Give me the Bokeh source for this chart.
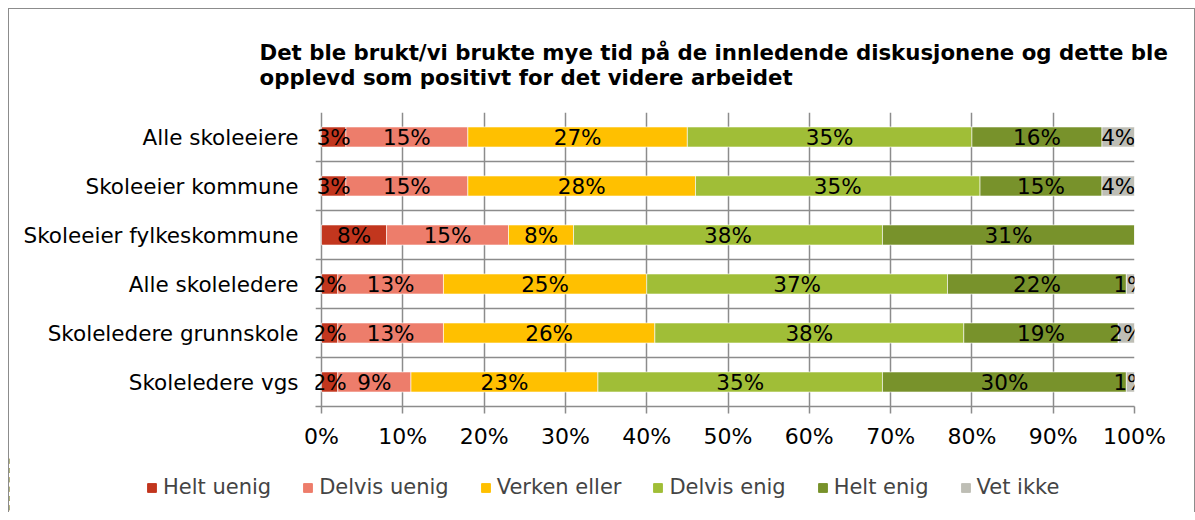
from bokeh.plotting import figure
from bokeh.layouts import column
from bokeh.models import ColumnDataSource, FixedTicker, Range1d, Legend, LegendItem
from bokeh.core.properties import value
from bokeh.embed import file_html
from bokeh.resources import INLINE

categories = ["Alle skoleeiere", "Skoleeier kommune", "Skoleeier fylkeskommune",
              "Alle skoleledere", "Skoleledere grunnskole", "Skoleledere vgs"]
series = ["Helt uenig", "Delvis uenig", "Verken eller", "Delvis enig", "Helt enig", "Vet ikke"]
helt_uenig = [3, 3, 8, 2, 2, 2]
delvis_uenig = [15, 15, 15, 13, 13, 9]
verken_eller = [27, 28, 8, 25, 26, 23]
delvis_enig = [35, 35, 38, 37, 38, 35]
helt_enig = [16, 15, 31, 22, 19, 30]
vet_ikke = [4, 4, 0, 1, 2, 1]
x_ticks = [0, 10, 20, 30, 40, 50, 60, 70, 80, 90, 100]
x_tick_labels = ["0%", "10%", "20%", "30%", "40%", "50%", "60%", "70%", "80%", "90%", "100%"]
title_text = ("Det ble brukt/vi brukte mye tid på de innledende diskusjonene og dette ble\n"
              "opplevd som positivt for det videre arbeidet")

colors = ["#C2361E", "#ED7D6B", "#FFC000", "#A0BE37", "#78922B", "#BEBEB5"]
FONT = "DejaVu Sans"
GRID = "#8c8c8c"

n = len(categories)
ypos = [n - 1 - i + 0.5 for i in range(n)]
values = [helt_uenig, delvis_uenig, verken_eller, delvis_enig, helt_enig, vet_ikke]
data = {"y": ypos}
for s, v in zip(series, values):
    data[s] = v
source = ColumnDataSource(data)

# label positions
lx, ly, lt = [], [], []
for i in range(n):
    cum = 0
    for v in values:
        val = v[i]
        if val > 0:
            lx.append(cum + val / 2)
            ly.append(ypos[i])
            lt.append(f"{val}%")
        cum += val
lab_src = ColumnDataSource(dict(x=lx, y=ly, t=lt))

p = figure(frame_width=819, frame_height=294, x_range=Range1d(-0.74, 100), y_range=Range1d(0, 6),
           output_backend="svg", toolbar_location=None,
           min_border_left=306, min_border_right=60, min_border_top=103, min_border_bottom=50)
p.outline_line_color = None
p.frame_align = False

renderers = p.hbar_stack(series, y="y", height=0.41, color=colors, source=source,
                         line_color="white", line_width=0.6)

p.text(x="x", y="y", text="t", source=lab_src, text_align="center", text_baseline="middle",
       text_font=value(FONT), text_font_size="21.5px", text_color="black")

# x axis
p.xaxis.ticker = FixedTicker(ticks=x_ticks)
p.xaxis.major_label_overrides = {t: l for t, l in zip(x_ticks, x_tick_labels)}
p.xaxis.major_label_text_font = FONT
p.xaxis.major_label_text_font_size = "22px"
p.xaxis.major_label_text_color = "black"
p.xaxis.major_tick_out = 7
p.xaxis.major_tick_in = 0
p.xaxis.major_tick_line_color = GRID
p.xaxis.major_tick_line_width = 1.5
p.xaxis.minor_tick_line_color = None
p.xaxis.axis_line_color = GRID
p.xaxis.axis_line_width = 1.5
p.xaxis.major_label_standoff = 10

# y axis
p.yaxis.ticker = FixedTicker(ticks=ypos)
p.yaxis.major_label_overrides = {y: c for y, c in zip(ypos, categories)}
p.yaxis.major_label_text_font = FONT
p.yaxis.major_label_text_font_size = "21.5px"
p.yaxis.major_label_text_color = "black"
p.yaxis.major_tick_line_color = None
p.yaxis.minor_tick_line_color = None
p.yaxis.axis_line_color = None
p.yaxis.major_label_standoff = 11

# grids
p.xgrid.ticker = FixedTicker(ticks=x_ticks)
p.xgrid.grid_line_color = GRID
p.xgrid.grid_line_width = 1.5
p.ygrid.ticker = FixedTicker(ticks=list(range(n + 1)))
p.ygrid.grid_line_color = GRID
p.ygrid.grid_line_width = 1.5

# title
p.title.text = title_text
p.title.text_font = FONT
p.title.text_font_size = "21.3px"
p.title.text_font_style = "bold"
p.title.text_color = "black"
p.title.align = "left"
p.title.offset = -56
p.title.standoff = 45

# legend strip: a second figure whose frame covers its whole canvas
p2 = figure(width=1185, height=56, x_range=Range1d(1000, 1100), y_range=Range1d(0, 6),
            output_backend="svg", toolbar_location=None,
            x_axis_location=None, y_axis_location=None,
            min_border_left=0, min_border_right=0, min_border_top=0, min_border_bottom=0)
p2.outline_line_color = None
p2.frame_align = False
p2.xgrid.visible = False
p2.ygrid.visible = False
leg_renderers = p2.hbar_stack(series, y="y", height=0.41, color=colors, source=source)
items = [LegendItem(label=s, renderers=[r]) for s, r in zip(series, leg_renderers)]
legend = Legend(items=items, orientation="horizontal", location=(137, 13),
                glyph_width=11, glyph_height=11, label_text_font=FONT,
                label_text_font_size="21px", label_standoff=6, spacing=31,
                padding=0, margin=0, border_line_color=None, background_fill_alpha=0)
p2.add_layout(legend, "center")

layout = column(p, p2, spacing=0)
layout.styles = {"border-left": "1px solid #8c8c8c", "border-right": "1px solid #8c8c8c",
                 "border-top": "1px solid #8c8c8c", "margin-left": "8px", "margin-top": "8px"}

open("out.html", "w").write(file_html(layout, INLINE))
